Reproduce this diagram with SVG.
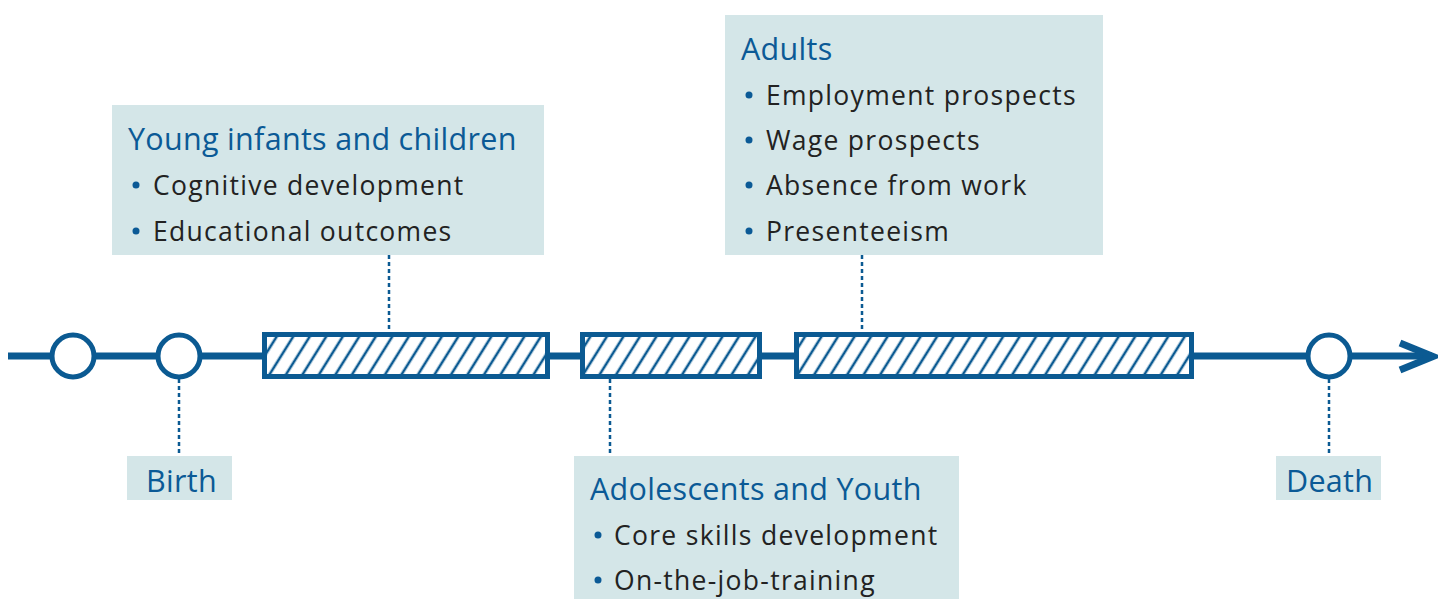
<svg xmlns="http://www.w3.org/2000/svg" width="1438" height="599" viewBox="0 0 1438 599">
<style>
.box{fill:#d4e6e8}
.title{font-family:"Open Sans","Liberation Sans",sans-serif;font-size:30.5px;letter-spacing:0.3px;fill:#0b5a96}
.item{font-family:"Open Sans","Liberation Sans",sans-serif;font-size:26.5px;letter-spacing:1.3px;fill:#222}
.dot{fill:#0b5a96}
.axis{stroke:#0b5a92;stroke-width:7;fill:none}
.ring{stroke:#0b5a92;stroke-width:5;fill:#fff}
.bar{stroke:#0b5a92;stroke-width:5;fill:url(#hatch)}
.lead{stroke:#0b5a92;stroke-width:2.5;stroke-dasharray:4 3;fill:none}
</style>
<defs>
<pattern id="hatch" patternUnits="userSpaceOnUse" width="14" height="14" patternTransform="rotate(32)">
<rect width="14" height="14" fill="#fff"/>
<line x1="7" y1="-1" x2="7" y2="15" stroke="#0b5a92" stroke-width="2.6"/>
</pattern>
</defs>
<g id="connectors">
<line class="axis" x1="8" y1="356" x2="1432" y2="356"/>
<polyline class="axis" points="1400,343 1433,356.5 1400,370" stroke-linejoin="miter"/>
<line class="lead" x1="389" y1="255" x2="389" y2="332"/>
<line class="lead" x1="862" y1="255" x2="862" y2="332"/>
<line class="lead" x1="179" y1="379" x2="179" y2="456"/>
<line class="lead" x1="610" y1="379" x2="610" y2="456"/>
<line class="lead" x1="1329" y1="379" x2="1329" y2="456"/>
</g>
<g id="marker-start"><circle class="ring" cx="73" cy="356" r="21"/></g>
<g id="marker-birth"><circle class="ring" cx="179" cy="356" r="21"/></g>
<g id="marker-death"><circle class="ring" cx="1329" cy="356" r="21"/></g>
<g id="period-children"><rect class="bar" x="264.5" y="334.5" width="283" height="42"/></g>
<g id="period-youth"><rect class="bar" x="582.5" y="334.5" width="177" height="42"/></g>
<g id="period-adults"><rect class="bar" x="796.5" y="334.5" width="395" height="42"/></g>
<g id="box-children">
<rect class="box" x="112" y="105" width="432" height="150"/>
<text class="title" x="128" y="150">Young infants and children</text>
<circle class="dot" cx="136" cy="185" r="3.5"/>
<text class="item" x="153" y="195">Cognitive development</text>
<circle class="dot" cx="136" cy="231" r="3.5"/>
<text class="item" x="153" y="241">Educational outcomes</text>
</g>
<g id="box-adults">
<rect class="box" x="725" y="15" width="378" height="240"/>
<text class="title" x="741" y="60">Adults</text>
<circle class="dot" cx="749" cy="95" r="3.5"/>
<text class="item" x="766" y="105">Employment prospects</text>
<circle class="dot" cx="749" cy="140" r="3.5"/>
<text class="item" x="766" y="150">Wage prospects</text>
<circle class="dot" cx="749" cy="185" r="3.5"/>
<text class="item" x="766" y="195">Absence from work</text>
<circle class="dot" cx="749" cy="231" r="3.5"/>
<text class="item" x="766" y="241">Presenteeism</text>
</g>
<g id="box-youth">
<rect class="box" x="574" y="456" width="385" height="143"/>
<text class="title" x="590" y="500">Adolescents and Youth</text>
<circle class="dot" cx="598" cy="535" r="3.5"/>
<text class="item" x="614" y="545">Core skills development</text>
<circle class="dot" cx="598" cy="580" r="3.5"/>
<text class="item" x="614" y="590">On-the-job-training</text>
</g>
<g id="box-birth">
<rect class="box" x="127" y="456" width="105" height="44"/>
<text class="title" x="146" y="492">Birth</text>
</g>
<g id="box-death">
<rect class="box" x="1276" y="456" width="105" height="44"/>
<text class="title" x="1286" y="492">Death</text>
</g>
</svg>
